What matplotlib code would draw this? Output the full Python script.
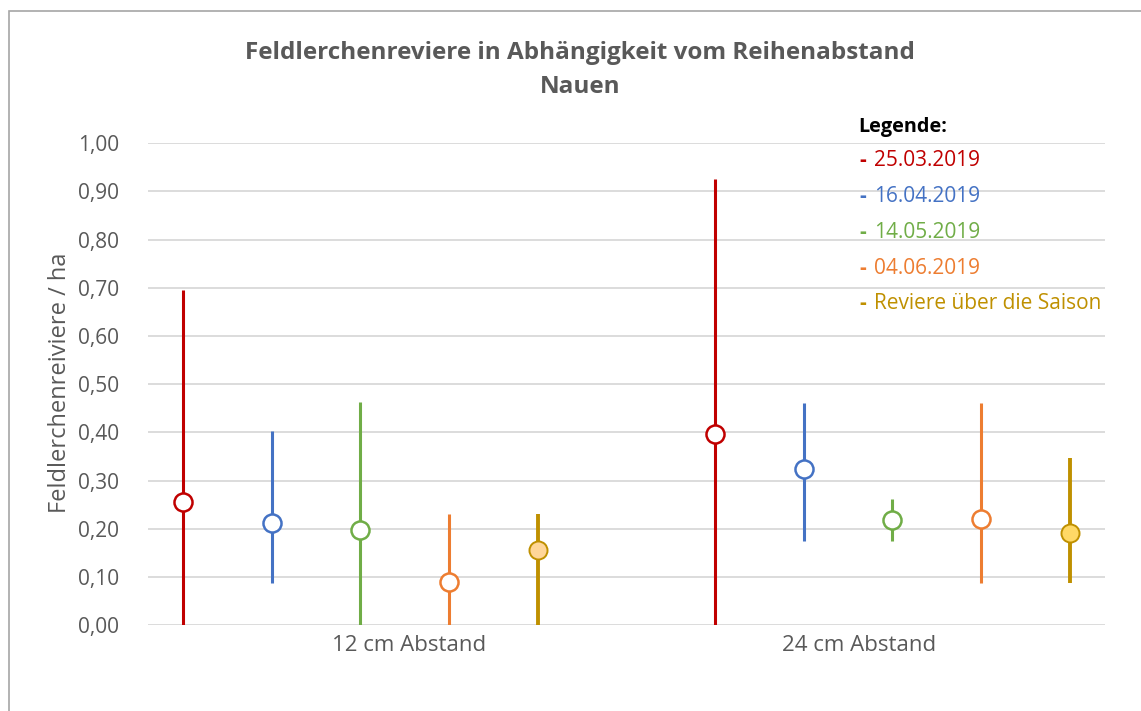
import matplotlib
matplotlib.use("Agg")
import matplotlib.pyplot as plt
from matplotlib.patches import Rectangle

# ---- data ----
groups = ["12 cm Abstand", "24 cm Abstand"]
series = ["25.03.2019", "16.04.2019", "14.05.2019", "04.06.2019", "Reviere über die Saison"]
means_12 = [0.256, 0.213, 0.198, 0.090, 0.157]
low_12 = [0.0, 0.088, 0.0, 0.0, 0.0]
high_12 = [0.695, 0.402, 0.464, 0.231, 0.231]
means_24 = [0.397, 0.325, 0.218, 0.220, 0.191]
low_24 = [0.0, 0.175, 0.175, 0.087, 0.087]
high_24 = [0.926, 0.462, 0.262, 0.462, 0.347]
yticks = [0.0, 0.1, 0.2, 0.3, 0.4, 0.5, 0.6, 0.7, 0.8, 0.9, 1.0]

colors = ["#C00000", "#4472C4", "#70AD47", "#ED7D31", "#BF9000"]
face_12 = ["white", "white", "white", "white", "#FFD699"]
face_24 = ["white", "white", "white", "white", "#FFD966"]

FONT = "Open Sans"
W, H = 1141, 711
fig = plt.figure(figsize=(W / 100, H / 100), dpi=100)
fig.patch.set_facecolor("white")

# outer chart border
fig.patches.append(Rectangle((8.5 / W, -0.1), 2.0, (H - 11) / H + 0.1,
                             transform=fig.transFigure, fill=False,
                             edgecolor="#A6A6A6", linewidth=1.2))

left, right = 148 / W, 1105 / W
bottom, top = (H - 625.2) / H, (H - 143.2) / H
ax = fig.add_axes([left, bottom, right - left, top - bottom])

step = 1.0
xmax = (1105 - 148) / 88.7
group_start = [(183 - 148) / 88.7, (715 - 148) / 88.7]
group_label_x = [(409 - 148) / 88.7, (859 - 148) / 88.7]

data = [(means_12, low_12, high_12, face_12), (means_24, low_24, high_24, face_24)]
for g, (m, lo, hi, fc) in enumerate(data):
    for i in range(len(series)):
        x = group_start[g] + i * step
        lw = 2.8 if i == 4 else 2.2
        ax.plot([x, x], [lo[i], hi[i]], color=colors[i], lw=lw,
                solid_capstyle="butt", zorder=3)
        ax.plot([x], [m[i]], marker="o", ms=13, mfc=fc[i], mec=colors[i],
                mew=1.8 if i < 4 else 1.4, zorder=4, linestyle="none")

ax.set_xlim(0, xmax)
ax.set_ylim(0, 1.0)
ax.set_yticks(yticks)
ax.set_yticklabels([f"{v:.2f}".replace(".", ",") for v in yticks],
                   fontsize=15, color="#595959", family=FONT)
ax.set_xticks(group_label_x)
ax.set_xticklabels(groups, fontsize=16, color="#595959", family=FONT)
ax.tick_params(axis="x", length=0, pad=7)
ax.tick_params(axis="y", length=0, pad=21)
for s in ax.spines.values():
    s.set_visible(False)
ax.grid(axis="y", color="#D9D9D9", lw=1.3, zorder=0)
ax.set_axisbelow(True)

# y-axis title placed explicitly
fig.text(60 / W, 1 - 383 / H, "Feldlerchenreiviere / ha", rotation=90,
         ha="center", va="center", fontsize=17, color="#595959", family=FONT)

# title
fig.text(580 / W, 1 - 53 / H, "Feldlerchenreviere in Abhängigkeit vom Reihenabstand",
         ha="center", va="center", fontsize=17.5, fontweight="bold",
         color="#595959", family=FONT)
fig.text(580 / W, 1 - 87 / H, "Nauen", ha="center", va="center",
         fontsize=17.5, fontweight="bold", color="#595959", family=FONT)

# legend as text
fig.text(858 / W, 1 - 127 / H, "Legende:", ha="left", va="center",
         fontsize=14.3, fontweight="bold", color="black", family=FONT)
for i, s in enumerate(series):
    y = 160 + 36 * i
    fig.text(859 / W, 1 - y / H, "-", ha="left", va="center",
             fontsize=15, fontweight="bold", color=colors[i], family=FONT)
    fig.text(874 / W, 1 - y / H, s, ha="left", va="center",
             fontsize=15, color=colors[i], family=FONT)

fig.savefig("out.png", dpi=100, facecolor="white")
